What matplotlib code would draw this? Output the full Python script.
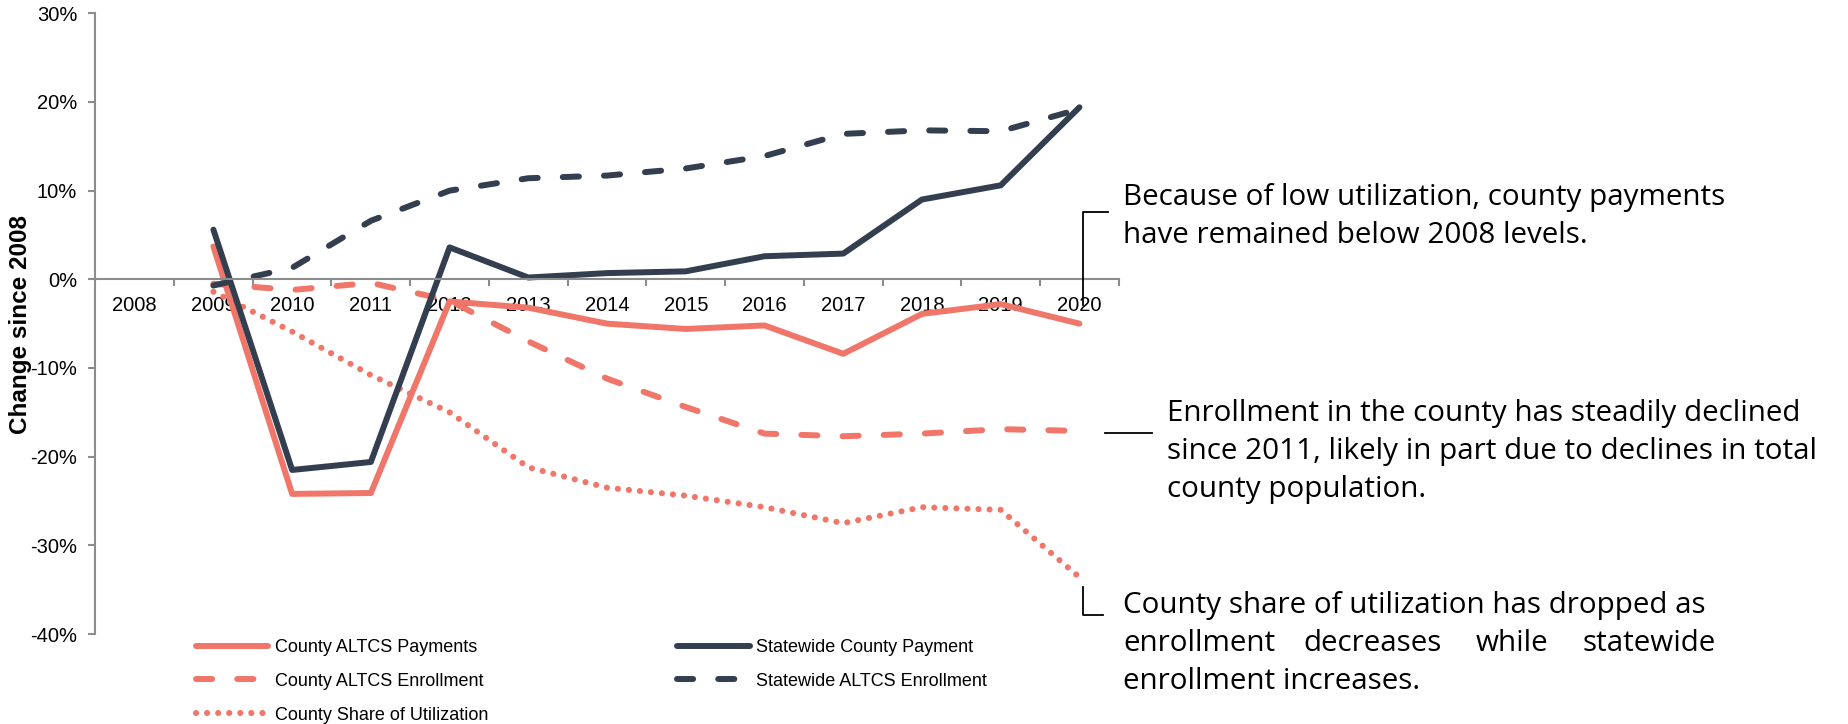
import numpy as np
import matplotlib.pyplot as plt
from matplotlib.lines import Line2D
from matplotlib.ticker import FuncFormatter, MultipleLocator

# values, % change since 2008 (no 2008 point)
years = ['2008', '2009', '2010', '2011', '2012', '2013', '2014',
         '2015', '2016', '2017', '2018', '2019', '2020']
county_payments = [np.nan, 3.7, -24.2, -24.1, -2.5, -3.2, -5.0, -5.6, -5.2, -8.4, -3.9, -2.8, -5.0]
county_enrollment = [np.nan, -0.5, -1.2, -0.4, -2.4, -7.0, -11.2, -14.4, -17.4, -17.7, -17.4, -16.9, -17.1]
county_share = [np.nan, -1.4, -5.9, -10.8, -15.0, -21.2, -23.5, -24.4, -25.7, -27.5, -25.7, -26.0, -33.6]
statewide_payment = [np.nan, 5.6, -21.5, -20.6, 3.6, 0.2, 0.7, 0.9, 2.6, 2.9, 9.0, 10.6, 19.4]
statewide_enrollment = [np.nan, -0.7, 1.3, 6.6, 10.0, 11.4, 11.7, 12.5, 13.9, 16.4, 16.8, 16.7, 19.2]

RED = '#F1766A'
NAVY = '#333F4F'
GRID = '#8C8C8C'

W, H = 1849, 724
plt.rcParams['font.family'] = ['Liberation Sans', 'DejaVu Sans']

fig = plt.figure(figsize=(W / 100, H / 100), dpi=100)
ax = fig.add_axes([95.3 / W, 1 - 634 / H, 1023.5 / W, 620.7 / H])

x = np.arange(len(years))
lw = 4.3
dash = dict(dashes=(2.7, 4.2), dash_capstyle='round')
ax.plot(x, county_payments, color=RED, lw=lw, solid_capstyle='round', solid_joinstyle='round',
        label='County ALTCS Payments')
ax.plot(x, county_enrollment, color=RED, lw=lw, label='County ALTCS Enrollment', **dash)
ax.plot(x, county_share, color=RED, lw=4.4, dashes=(0.01, 1.8), dash_capstyle='round',
        label='County Share of Utilization')
ax.plot(x, statewide_payment, color=NAVY, lw=lw, solid_capstyle='round', solid_joinstyle='round',
        label='Statewide County Payment')
ax.plot(x, statewide_enrollment, color=NAVY, lw=lw, label='Statewide ALTCS Enrollment', **dash)

ax.set_xlim(-0.5, len(years) - 0.5)
ax.set_ylim(-40, 30)
ax.yaxis.set_major_locator(MultipleLocator(10))
ax.yaxis.set_major_formatter(FuncFormatter(lambda v, p: f'{v:.0f}%'))

for s in ['top', 'right']:
    ax.spines[s].set_visible(False)
ax.spines['bottom'].set_position(('data', 0))
for s in ['left', 'bottom']:
    ax.spines[s].set_color(GRID)
    ax.spines[s].set_linewidth(1.5)

ax.set_xticks(x)
ax.set_xticklabels(years)
ax.set_xticks(np.arange(0.5, len(years)), minor=True)
ax.tick_params(axis='x', which='major', length=0, pad=12, labelsize=14.5)
ax.tick_params(axis='x', which='minor', length=5, width=1.5, color=GRID, direction='out')
ax.tick_params(axis='y', length=5, width=1.5, color=GRID, pad=8, labelsize=14.5)

fig.text(21 / W, 1 - 324 / H, 'Change since 2008', rotation=90, ha='center', va='center',
         fontsize=17.5, fontweight='bold')

h, l = ax.get_legend_handles_labels()
fig.legend(h, l, loc='upper left', bbox_to_anchor=(196 / W, 1 - 639 / H), ncol=2,
           frameon=False, fontsize=13, handlelength=4, handletextpad=0.35,
           columnspacing=10.5, labelspacing=0.93, borderpad=0, borderaxespad=0)


def px(xp, yp):
    return xp / W, 1 - yp / H


def bracket(pts):
    xs, ys = zip(*[px(a, b) for a, b in pts])
    fig.add_artist(Line2D(xs, ys, color='black', lw=1.3, transform=fig.transFigure))


bracket([(1108, 212), (1083, 212), (1083, 305)])
bracket([(1105, 433), (1152, 433)])
bracket([(1083, 587), (1083, 615), (1103, 615)])

note_font = dict(family=['Open Sans', 'DejaVu Sans'], fontsize=21.3, color='black')
note1 = ['Because of low utilization, county payments', 'have remained below 2008 levels.']
note2 = ['Enrollment in the county has steadily declined',
         'since 2011, likely in part due to declines in total', 'county population.']
for i, t in enumerate(note1):
    fig.text(*px(1123, 205 + 38 * i), t, va='baseline', ha='left', **note_font)
for i, t in enumerate(note2):
    fig.text(*px(1167, 421 + 38 * i), t, va='baseline', ha='left', **note_font)

# third note, middle line justified like the original
fig.text(*px(1123, 613), 'County share of utilization has dropped as', va='baseline', **note_font)
fig.text(*px(1123, 651), 'enrollment', va='baseline', ha='left', **note_font)
fig.text(*px(1373, 651), 'decreases', va='baseline', ha='center', **note_font)
fig.text(*px(1512, 651), 'while', va='baseline', ha='center', **note_font)
fig.text(*px(1716, 651), 'statewide', va='baseline', ha='right', **note_font)
fig.text(*px(1123, 689), 'enrollment increases.', va='baseline', **note_font)

fig.savefig('out.png', dpi=100)
